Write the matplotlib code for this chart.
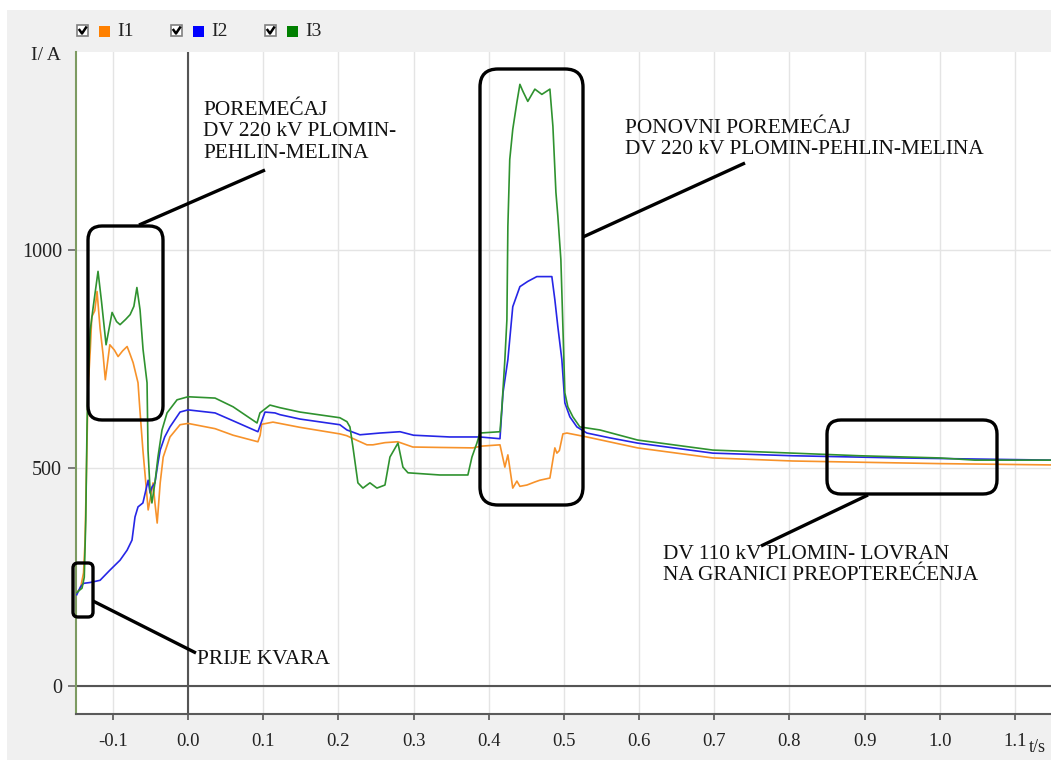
import matplotlib
matplotlib.use('Agg')
import matplotlib.pyplot as plt
from matplotlib.patches import FancyBboxPatch, Rectangle
from matplotlib.lines import Line2D
from matplotlib.transforms import Affine2D

W, H = 1051, 760
plt.rcParams['font.family'] = ['Liberation Serif', 'DejaVu Serif']
plt.rcParams['axes.unicode_minus'] = False

# ---------------- data (t in s, I in A) ----------------
t_I1 = [-0.148, -0.143, -0.139, -0.137, -0.135, -0.133, -0.130, -0.128, -0.124, -0.121,
        -0.117, -0.113, -0.110, -0.104, -0.098, -0.093, -0.087, -0.081, -0.077, -0.073,
        -0.0665, -0.064, -0.060, -0.053, -0.0505, -0.0465, -0.044, -0.041, -0.037, -0.033,
        -0.024, -0.0106, 0.0, 0.036, 0.060, 0.093, 0.096, 0.098, 0.113, 0.149,
        0.202, 0.211, 0.238, 0.246, 0.262, 0.279, 0.299, 0.335, 0.379, 0.390,
        0.415, 0.4215, 0.4255, 0.432, 0.4375, 0.4415, 0.4508, 0.4614, 0.468, 0.4814,
        0.488, 0.4907, 0.494, 0.4987, 0.504, 0.5306, 0.598, 0.698, 0.8045, 0.900,
        1.000, 1.148]
I1 = [215, 225, 260, 330, 500, 680, 770, 846, 860, 904,
      820, 760, 702, 782, 770, 755, 768, 778, 760, 741,
      695, 633, 541, 404, 427, 466, 420, 374, 466, 525,
      571, 599, 602, 590, 575, 560, 575, 600, 605, 593,
      578, 574, 553, 553, 558, 560, 548, 547, 546, 550,
      553, 502, 530, 454, 470, 458, 461, 468, 472, 477,
      546, 534, 540, 578, 580, 571, 546, 523, 516, 513,
      510, 507]

t_I2 = [-0.148, -0.143, -0.139, -0.130, -0.117, -0.104, -0.0904, -0.081, -0.0745, -0.0705,
        -0.0665, -0.060, -0.053, -0.0505, -0.048, -0.044, -0.040, -0.037, -0.031, -0.024,
        -0.0106, 0.0, 0.036, 0.060, 0.093, 0.1024, 0.1157, 0.1223, 0.149, 0.202,
        0.2114, 0.2287, 0.2553, 0.282, 0.300, 0.348, 0.388, 0.415, 0.419, 0.4255,
        0.432, 0.4415, 0.452, 0.464, 0.484, 0.488, 0.492, 0.4973, 0.5013, 0.508,
        0.5173, 0.5306, 0.561, 0.598, 0.698, 0.8045, 0.947, 1.148]
I2 = [210, 228, 236, 238, 243, 266, 289, 312, 335, 388,
      411, 420, 472, 443, 456, 466, 511, 541, 571, 594,
      628, 633, 626, 608, 583, 628, 626, 622, 612, 599,
      587, 576, 580, 583, 575, 571, 571, 567, 672, 748,
      869, 915, 927, 938, 938, 885, 823, 748, 649, 617,
      594, 580, 569, 557, 534, 528, 523, 518]

t_I3 = [-0.148, -0.141, -0.138, -0.136, -0.1343, -0.133, -0.130, -0.126, -0.1197, -0.115,
        -0.109, -0.101, -0.095, -0.0904, -0.083, -0.077, -0.072, -0.068, -0.0638, -0.0598,
        -0.0545, -0.0532, -0.0505, -0.048, -0.044, -0.040, -0.0346, -0.0279, -0.0146, 0.0,
        0.036, 0.060, 0.0918, 0.0957, 0.109, 0.1223, 0.149, 0.202, 0.2114, 0.2154,
        0.2194, 0.226, 0.2327, 0.242, 0.2513, 0.262, 0.2686, 0.2793, 0.2859, 0.2926,
        0.335, 0.3723, 0.3777, 0.3843, 0.3883, 0.415, 0.4176, 0.4215, 0.4242, 0.4255,
        0.428, 0.432, 0.4375, 0.4415, 0.4455, 0.452, 0.4614, 0.4707, 0.4814, 0.4854,
        0.4894, 0.492, 0.496, 0.4987, 0.5013, 0.5053, 0.512, 0.5213, 0.548, 0.598,
        0.698, 0.8045, 0.8936, 1.000, 1.0465, 1.148]
I3 = [215, 225, 250, 380, 600, 700, 816, 870, 950, 880,
      782, 856, 835, 828, 840, 851, 870, 913, 862, 771,
      695, 541, 450, 420, 466, 525, 587, 626, 656, 663,
      660, 640, 603, 626, 644, 638, 628, 615, 606, 594,
      548, 466, 454, 466, 454, 461, 525, 557, 502, 489,
      484, 484, 525, 557, 580, 583, 640, 748, 839, 1053,
      1206, 1275, 1337, 1378, 1362, 1339, 1367, 1355, 1367, 1282,
      1131, 1076, 977, 823, 672, 640, 617, 594, 587, 564,
      541, 534, 528, 523, 518, 518]

series_names = ['I1', 'I2', 'I3']
series_colors = ['#f7922a', '#2626e6', '#2f922f']
legend_colors = ['#ff8000', '#0000ff', '#008000']
x_ticks = [-0.1, 0.0, 0.1, 0.2, 0.3, 0.4, 0.5, 0.6, 0.7, 0.8, 0.9, 1.0, 1.1]
y_ticks = [0, 500, 1000]

# ---------------- figure ----------------
fig = plt.figure(figsize=(W / 100, H / 100), dpi=100, facecolor='white')
px = Affine2D().scale(0.01, -0.01).translate(0, H / 100) + fig.dpi_scale_trans

fig.add_artist(Rectangle((7, 10), W - 7, H - 10, transform=px,
                         facecolor='#f0f0f0', edgecolor='none', zorder=-10))

ax = fig.add_axes([76 / W, 1 - 714 / H, (W - 76) / W, (714 - 52) / H])
ax.set_facecolor('white')
ax.set_xlim(-0.149, 1.148)
ax.set_ylim(-63, 1452)

ax.set_xticks(x_ticks)
ax.set_xticklabels([f'{v:.1f}' for v in x_ticks])
ax.set_yticks(y_ticks)
ax.set_yticklabels([str(v) for v in y_ticks])
ax.grid(True, color='#e4e4e4', lw=1.0)
ax.set_axisbelow(True)
ax.tick_params(axis='x', length=4, width=1.2, color='#555555', pad=10,
               labelsize=13.5, labelcolor='#222222')
ax.tick_params(axis='y', length=6, width=1.2, color='#666666', pad=4,
               labelsize=14.5, labelcolor='#222222')
for s in ['top', 'right']:
    ax.spines[s].set_visible(False)
ax.spines['left'].set_color('#7d9b62')
ax.spines['left'].set_linewidth(1.5)
ax.spines['bottom'].set_color('#5a5a5a')
ax.spines['bottom'].set_linewidth(1.5)

ax.axhline(0, color='#555555', lw=1.5, zorder=1)
ax.axvline(0, color='#555555', lw=1.5, zorder=1)

for t, y, c in [(t_I1, I1, series_colors[0]), (t_I2, I2, series_colors[1]),
                (t_I3, I3, series_colors[2])]:
    ax.plot(t, y, color=c, lw=1.2, zorder=3)

# axis labels
fig.text(46 / W, 1 - 55 / H, 'I/ A', ha='center', va='center', fontsize=14, color='#222222')
fig.text(1037 / W, 1 - 747 / H, 't/s', ha='center', va='center', fontsize=13, color='#222222')

# legend with check boxes
for i, (name, col) in enumerate(zip(series_names, legend_colors)):
    x0 = 77 + 94 * i
    fig.add_artist(Rectangle((x0, 25), 11, 11, transform=px, facecolor='white',
                             edgecolor='#808080', lw=1.2, zorder=5))
    fig.add_artist(Line2D([x0 + 2.5, x0 + 5, x0 + 9], [30, 33.5, 27.5],
                          transform=px, color='black', lw=1.8, zorder=6))
    fig.add_artist(Rectangle((x0 + 22, 26), 11, 11, transform=px, facecolor=col,
                             edgecolor='none', zorder=5))
    fig.text((x0 + 40) / W, 1 - 32 / H, name, ha='left', va='center',
             fontsize=14, color='#222222')

# annotation boxes and connectors
boxes = [(73, 563, 20, 54, 5), (88, 226, 75, 194, 14),
         (480, 69, 103, 436, 18), (827, 420, 170, 74, 14)]
for (x, y, w, h, r) in boxes:
    fig.add_artist(FancyBboxPatch((x, y), w, h, boxstyle=f'round,pad=0,rounding_size={r}',
                                  transform=px, facecolor='none', edgecolor='black',
                                  lw=2.4, zorder=7))
connectors = [((93, 601), (196, 653)), ((139, 225), (265, 170)),
              ((583, 237), (745, 163)), ((868, 495), (761, 546))]
for (p0, p1) in connectors:
    fig.add_artist(Line2D([p0[0], p1[0]], [p0[1], p1[1]], transform=px,
                          color='black', lw=2.4, zorder=7, solid_capstyle='butt'))

texts = [(197, 660, 'PRIJE KVARA'),
         (203, 132, 'POREMEĆAJ\nDV 220 kV PLOMIN-\nPEHLIN-MELINA'),
         (625, 139, 'PONOVNI POREMEĆAJ\nDV 220 kV PLOMIN-PEHLIN-MELINA'),
         (663, 565, 'DV 110 kV PLOMIN- LOVRAN\nNA GRANICI PREOPTEREĆENJA')]
for (x, y, s) in texts:
    fig.text(x / W, 1 - y / H, s, ha='left', va='center', fontsize=15.4,
             color='#111111', linespacing=1.18, zorder=8)

fig.savefig('out.png', dpi=100, facecolor=fig.get_facecolor())
